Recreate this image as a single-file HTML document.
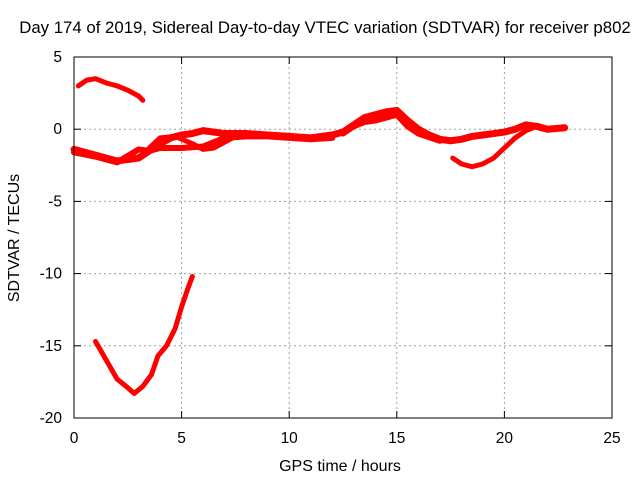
<!DOCTYPE html>
<html><head><meta charset="utf-8"><style>
body{margin:0;background:#fff;width:640px;height:480px;overflow:hidden}
text{font-family:"Liberation Sans",sans-serif;font-size:15.5px;fill:#000}
</style></head><body>
<svg id="chart" width="640" height="480" xmlns="http://www.w3.org/2000/svg">
<rect width="640" height="480" fill="#fff"/>
<g id="grid"></g>
<g id="series"></g>
<rect x="74" y="57" width="538" height="361" fill="none" stroke="#000" stroke-width="1"/>
<g id="ticks"></g>
<text x="325" y="33" text-anchor="middle" style="font-size:16.8px">Day 174 of 2019, Sidereal Day-to-day VTEC variation (SDTVAR) for receiver p802</text>
<text x="340" y="471" text-anchor="middle" style="font-size:16px">GPS time / hours</text>
<text transform="translate(19,238) rotate(-90)" text-anchor="middle" style="font-size:16px">SDTVAR / TECUs</text>
</svg>
<script>
const xTicks=[0,5,10,15,20,25];
const yTicks=[5,0,-5,-10,-15,-20];
const seriesTop=[[0.2,3.0],[0.6,3.4],[1.0,3.5],[1.5,3.2],[2.0,3.0],[2.5,2.7],[3.0,2.3],[3.2,2.0]];
const seriesDip=[[1.0,-14.7],[1.5,-16.0],[2.0,-17.3],[2.5,-17.9],[2.8,-18.3],[3.2,-17.8],[3.6,-17.0],[3.9,-15.7],[4.3,-15.0],[4.7,-13.8],[5.0,-12.3],[5.3,-11.0],[5.5,-10.2]];
const seriesMain=[[0,-1.4],[0.5,-1.6],[1,-1.8],[1.5,-2.0],[2,-2.2],[2.5,-2.1],[3,-2.0],[3.5,-1.5],[4,-1.0],[4.5,-0.6],[5,-0.4],[5.5,-0.3],[6,-0.1],[7,-0.3],[8,-0.3],[9,-0.4],[10,-0.5],[11,-0.6],[12,-0.4],[12.5,-0.2],[13,0.3],[13.5,0.8],[14,1.0],[14.5,1.2],[15,1.3],[15.5,0.6],[16,0.0],[16.5,-0.4],[17,-0.7],[17.5,-0.8],[18,-0.7],[18.5,-0.5],[19,-0.4],[19.5,-0.3],[20,-0.2],[20.5,0.0],[21,0.3],[21.5,0.2],[22,0.0],[22.8,0.1]];
const seriesLowerA=[[0,-1.6],[1,-1.9],[2,-2.3],[3,-1.4],[3.5,-1.5],[4,-1.3],[5,-1.3],[6,-1.2],[7,-0.6],[8,-0.5],[9,-0.5],[10,-0.6],[11,-0.7],[12,-0.6]];
const seriesLowerB=[[12.5,-0.3],[13,0.2],[13.5,0.5],[14,0.6],[15,1.0],[15.5,0.2],[16,-0.3],[17,-0.8]];
const seriesLoop=[[3.5,-1.3],[4,-0.6],[4.7,-0.5],[5.5,-1.0],[6,-1.4],[6.5,-1.3],[7.5,-0.5]];
const seriesEnd=[[17.6,-2.0],[18,-2.4],[18.5,-2.6],[19,-2.4],[19.5,-2.0],[20,-1.3],[20.5,-0.6],[21,-0.1],[21.5,0.2]];
const X=v=>74+v*(538/25), Y=v=>57+(5-v)*(361/25);
const NS='http://www.w3.org/2000/svg';
const grid=document.getElementById('grid'),ticks=document.getElementById('ticks'),ser=document.getElementById('series');
function mk(tag,attrs,parent){const e=document.createElementNS(NS,tag);for(const k in attrs)e.setAttribute(k,attrs[k]);parent.appendChild(e);return e;}
xTicks.forEach(t=>{const x=X(t);
 if(t>0&&t<25){const g=mk('line',{x1:x,x2:x,y1:57,y2:418,stroke:'#a0a0a0','stroke-dasharray':'2,3'},grid);}
 mk('line',{x1:x,x2:x,y1:418,y2:411,stroke:'#000'},ticks);mk('line',{x1:x,x2:x,y1:57,y2:64,stroke:'#000'},ticks);
 const tx=mk('text',{x:x,y:443,'text-anchor':'middle'},ticks);tx.textContent=t;
 });
yTicks.forEach(t=>{const y=Y(t);
 if(t<5&&t>-20){const g=mk('line',{x1:74,x2:612,y1:y,y2:y,stroke:'#a0a0a0','stroke-dasharray':'2,3'},grid);}
 mk('line',{x1:74,x2:81,y1:y,y2:y,stroke:'#000'},ticks);mk('line',{x1:612,x2:605,y1:y,y2:y,stroke:'#000'},ticks);
 const tx=mk('text',{x:62,y:y+5,'text-anchor':'end'},ticks);tx.textContent=t;
 });
function draw(d,name,w){const p=mk('polyline',{points:d.map(q=>X(q[0])+','+Y(q[1])).join(' '),fill:'none',stroke:'#ff0000','stroke-width':w,'stroke-linejoin':'round','stroke-linecap':'round'},ser);
 }
draw(seriesTop,'series-top',5);
draw(seriesDip,'series-dip',5);
draw(seriesMain,'series-main',7);
draw(seriesLowerA,'series-lower-a',6);
draw(seriesLowerB,'series-lower-b',6);
draw(seriesLoop,'series-loop',5);
draw(seriesEnd,'series-end',5);
</script>
</body></html>
